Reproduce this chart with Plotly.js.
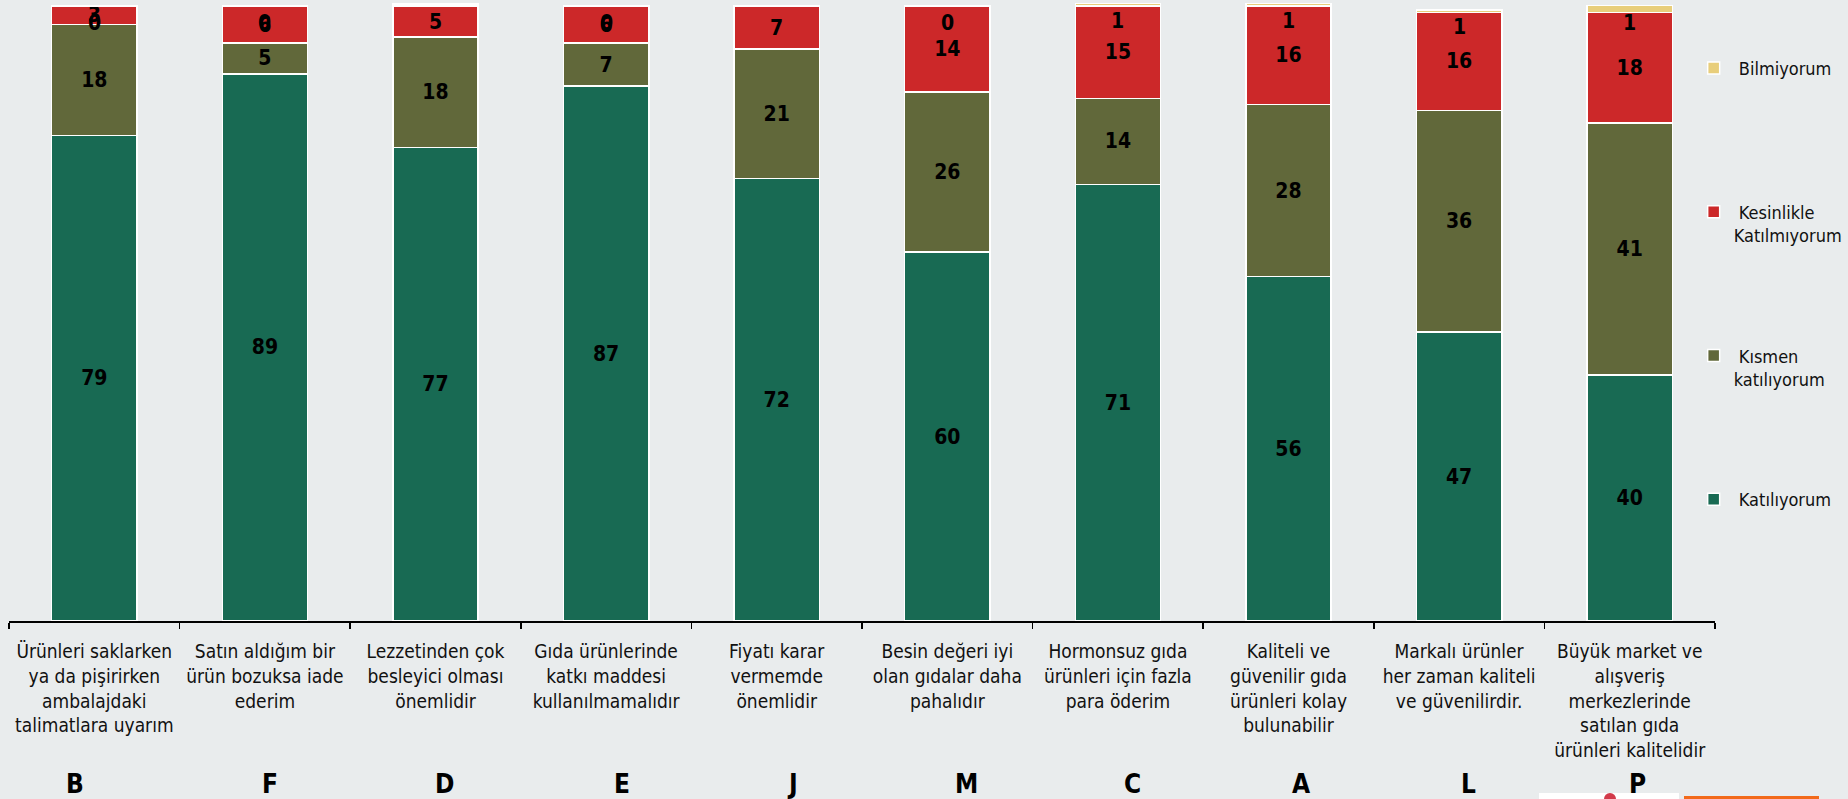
<!DOCTYPE html>
<html>
<head>
<meta charset="utf-8">
<script src="https://cdn.plot.ly/plotly-3.0.1.min.js"></script>
<style>
  html, body { margin: 0; padding: 0; background: #E9ECED; }
  #chart { width: 1848px; height: 799px; }
</style>
</head>
<body>
<div id="chart"></div>
<script>
// ---- Data ----
const categories = ['B', 'F', 'D', 'E', 'J', 'M', 'C', 'A', 'L', 'P'];
const categoryLabels = [
  'Ürünleri saklarken<br>ya da pişirirken<br>ambalajdaki<br>talimatlara uyarım',
  'Satın aldığım bir<br>ürün bozuksa iade<br>ederim',
  'Lezzetinden çok<br>besleyici olması<br>önemlidir',
  'Gıda ürünlerinde<br>katkı maddesi<br>kullanılmamalıdır',
  'Fiyatı karar<br>vermemde<br>önemlidir',
  'Besin değeri iyi<br>olan gıdalar daha<br>pahalıdır',
  'Hormonsuz gıda<br>ürünleri için fazla<br>para öderim',
  'Kaliteli ve<br>güvenilir gıda<br>ürünleri kolay<br>bulunabilir',
  'Markalı ürünler<br>her zaman kaliteli<br>ve güvenilirdir.',
  'Büyük market ve<br>alışveriş<br>merkezlerinde<br>satılan gıda<br>ürünleri kalitelidir'
];
const katiliyorum = [79, 89, 77, 87, 72, 60, 71, 56, 47, 40];
const kismen      = [18, 5, 18, 7, 21, 26, 14, 28, 36, 41];
const kesinlikle  = [3, 6, 5, 6, 7, 14, 15, 16, 16, 18];
const bilmiyorum  = [0, 0, 0.35, 0, 0, 0, 0.4, 0.4, 0.4, 1.1];
const bilmiyorumLabels = ['0', '0', '', '0', '', '0', '1', '1', '1', '1'];

// ---- Styling / layout helpers ----
const FONT = '"DejaVu Sans Condensed", "DejaVu Sans", sans-serif';
const colors = ['#186A53', '#61683A', '#CC2829', '#E8CE7B'];
const labelFont = {family: FONT, size: 21, color: '#000000', weight: 'bold'};
const legendNames = [
  '\u00a0Katılıyorum<br> ',
  '\u00a0Kısmen<br>katılıyorum',
  '\u00a0Kesinlikle<br>Katılmıyorum',
  '\u00a0Bilmiyorum<br> '
];
const legendRanks = [4, 3, 2, 1];
// horizontal pixel nudges of the bottom letter captions (layout only)
const letterShift = [-19, 5, 9, 16, 16, 19, 15, 12, 9, 8];

const seriesValues = [katiliyorum, kismen, kesinlikle, bilmiyorum];

const traces = seriesValues.map((vals, i) => ({
  type: 'bar',
  x: categories,
  y: vals,
  name: legendNames[i],
  legendgroup: 'g' + i,
  legendrank: legendRanks[i],
  marker: {color: colors[i], line: {color: '#FFFFFF', width: 1.5}},
  text: i < 3 ? vals.map(v => String(v)) : undefined,
  textposition: i < 3 ? 'inside' : 'none',
  insidetextanchor: 'middle',
  textangle: 0,
  constraintext: 'none',
  insidetextfont: labelFont,
  hoverinfo: 'name+y'
}));

const totals = categories.map((c, i) => katiliyorum[i] + kismen[i] + kesinlikle[i] + bilmiyorum[i]);

// Bilmiyorum value labels, just below the top of each stack
const topLabels = categories.map((c, i) => ({
  x: c, xref: 'x',
  y: totals[i], yref: 'y',
  yanchor: 'middle', xanchor: 'center',
  yshift: -17,
  text: bilmiyorumLabels[i],
  showarrow: false,
  font: labelFont
}));

// Bold letter captions under the category labels
const letterLabels = categories.map((c, i) => ({
  x: c, xref: 'x',
  y: -0.263, yref: 'paper',
  yanchor: 'middle', xanchor: 'center',
  xshift: letterShift[i],
  text: c,
  showarrow: false,
  font: {family: FONT, size: 26, color: '#000000', weight: 'bold'}
}));

const layout = {
  width: 1848,
  height: 799,
  paper_bgcolor: '#E9ECED',
  plot_bgcolor: '#E9ECED',
  margin: {l: 9, r: 133, t: 0, b: 178, autoexpand: false},
  barmode: 'stack',
  bargap: 0.5,
  font: {family: FONT, color: '#111111'},
  showlegend: true,
  legend: {
    x: 0.9875, xanchor: 'left',
    y: 0.92, yanchor: 'top',
    traceorder: 'grouped',
    tracegroupgap: 94,
    valign: 'top',
    bgcolor: 'rgba(0,0,0,0)',
    font: {family: FONT, size: 18, color: '#111111'}
  },
  xaxis: {
    type: 'category',
    tickmode: 'array',
    tickvals: categories,
    ticktext: categoryLabels,
    tickson: 'boundaries',
    ticks: 'outside',
    ticklen: 6,
    tickwidth: 1.5,
    tickcolor: '#000000',
    ticklabelstandoff: 13,
    showline: true,
    linecolor: '#000000',
    linewidth: 1.5,
    showgrid: false,
    zeroline: false,
    automargin: false,
    tickfont: {family: FONT, size: 19, color: '#111111'},
    fixedrange: true
  },
  yaxis: {
    range: [0, 101],
    visible: false,
    showgrid: false,
    zeroline: false,
    automargin: false,
    fixedrange: true
  },
  annotations: topLabels.concat(letterLabels),
  shapes: [
    {type: 'rect', xref: 'paper', yref: 'paper', x0: (1539 - 9) / 1706, x1: (1679 - 9) / 1706,
     y0: -(799 - 621) / 621, y1: -(793 - 621) / 621, fillcolor: '#FFFFFF', line: {width: 0}},
    {type: 'circle', xref: 'paper', yref: 'paper', x0: (1604 - 9) / 1706, x1: (1616 - 9) / 1706,
     y0: -(805 - 621) / 621, y1: -(793 - 621) / 621, fillcolor: '#D23A4A', line: {width: 0}},
    {type: 'rect', xref: 'paper', yref: 'paper', x0: (1684 - 9) / 1706, x1: (1819 - 9) / 1706,
     y0: -(799 - 621) / 621, y1: -(796 - 621) / 621, fillcolor: '#F26A1B', line: {width: 0}}
  ]
};

Plotly.newPlot('chart', traces, layout, {displayModeBar: false, staticPlot: true});
</script>
</body>
</html>
